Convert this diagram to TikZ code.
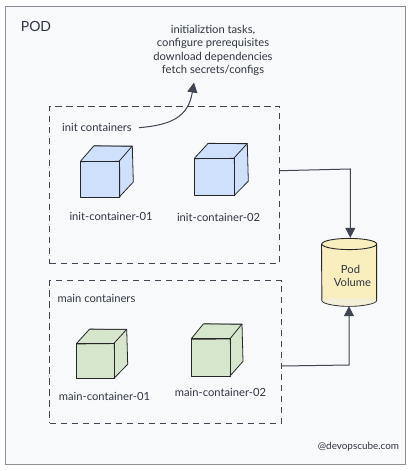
\documentclass[tikz,border=0pt]{standalone}
\usepackage{fontspec}
\setmainfont{Lato}
\usetikzlibrary{arrows.meta}
\definecolor{bgc}{HTML}{F8F9FB}
\definecolor{framec}{HTML}{8C9096}
\definecolor{inkc}{HTML}{2F3640}
\definecolor{linec}{HTML}{3F4651}
\definecolor{bluec}{HTML}{CFE0FC}
\definecolor{greenc}{HTML}{D6E6CD}
\definecolor{yellowc}{HTML}{F9EFBE}
\tikzset{
  x=1pt,y=-1pt,
  frame/.style={draw=framec,fill=bgc,line width=0.9pt,minimum width=399.5pt,minimum height=457.5pt,inner sep=0pt},
  dashbox/.style={draw=linec,dash pattern=on 6.5pt off 4.5pt,line width=0.8pt,inner sep=0pt},
  txt/.style={text=inkc,font=\fontsize{11.2}{13}\selectfont,inner sep=0pt},
  cubeline/.style={draw=black!85,line width=0.8pt,line join=round},
  conn/.style={draw=linec,line width=1pt},
  tip/.style={-{Triangle[length=10pt,width=10pt]}},
  volbox/.style={minimum width=55pt,minimum height=68pt,inner sep=0pt}
}
% front x1,y1,x2,y2 ; dx dy of back ; fill
\newcommand{\cubeat}[7]{%
  \fill[#7] (#1,#2) -- (#1+#5,#2-#6) -- (#3+#5,#2-#6) -- (#3+#5+1,#4-#6) -- (#3,#4) -- (#1,#4) -- cycle;
  \draw[cubeline] (#1,#2) rectangle (#3,#4);
  \draw[cubeline] (#1,#2) -- (#1+#5,#2-#6) -- (#3+#5,#2-#6) -- (#3,#2);
  \draw[cubeline] (#3+#5,#2-#6) -- (#3+#5+1,#4-#6) -- (#3,#4);
  \draw[cubeline,line width=0.7pt] (#1-0.3,#2+0.7) -- (#3+0.3,#2+0.3) -- (#3+0.6,#4+0.3);
  \draw[cubeline,line width=0.5pt] (#1+#5+0.5,#2-#6-0.4) -- (#3+#5-0.4,#2-#6+0.5);
}
\begin{document}
\begin{tikzpicture}
\useasboundingbox (0,0) rectangle (412,470);
\fill[white] (0,0) rectangle (412,470);
\node[frame] (pod) at (205.5,235.5) {};
\node[dashbox,minimum width=229.8pt,minimum height=157.5pt] (initbox) at (164.6,184.75) {};
\node[dashbox,minimum width=232.2pt,minimum height=142.3pt] (mainbox) at (165.6,351.85) {};

\node[txt,font=\fontsize{14}{16}\selectfont] (podlabel) at (36,26) {POD};
\node[txt] (tasks) at (213,50.5) {\parbox{130pt}{\centering\baselineskip=13.3pt initializtion tasks,\\configure prerequisites\\download dependencies\\fetch secrets/configs}};
\node[txt] (initlabel) at (97,127) {init containers};
\node[txt] (mainlabel) at (96.5,298.5) {main containers};

\cubeat{80.7}{161}{119.3}{197}{13}{15}{bluec}
\cubeat{194.7}{158}{234}{195.7}{13.3}{14.5}{bluec}
\cubeat{76.7}{343.3}{114}{378.3}{12.7}{14}{greenc}
\cubeat{191.3}{338.7}{230}{376}{12}{14.7}{greenc}

\node[txt] (ic1) at (111,216.5) {init-container-01};
\node[txt] (ic2) at (218.5,217) {init-container-02};
\node[txt] (mc1) at (104.5,396) {main-container-01};
\node[txt] (mc2) at (220.5,392.5) {main-container-02};

\node[volbox] (volume) at (349.2,272) {};
\path[fill=yellowc,draw=black!85,line width=0.9pt]
  (volume.north west) ++(0,6) -- (321.9,300.5)
  .. controls (322,304) and (338,306.5) .. (349.2,306.3)
  .. controls (360,306.5) and (376.4,304) .. (376.6,300.5)
  -- (376.6,244);
\fill[black!6,opacity=0.5] (322.3,298.5) -- (376.2,298.5) -- (376.2,300.5) .. controls (376,304) and (360,306) .. (349.2,305.8) .. controls (338,306) and (322.4,304) .. (322.3,300.5) -- cycle;
\draw[fill=yellowc,draw=black!85,line width=0.9pt] (349.25,244) ellipse [x radius=27.4pt,y radius=5.6pt];
\node[txt] (pv1) at (350.5,269) {Pod};
\node[txt] (pv2) at (352.5,282) {Volume};
\node[txt,font=\fontsize{9.9}{12}\selectfont] (credit) at (358.5,447) {@devopscube.com};

\coordinate (curvestart) at (139,127.7);
\coordinate (curveend) at (194,82.5);
\coordinate (initout) at (280,170.7);
\coordinate (mainout) at (282,366);
\coordinate (initcorner) at (350.3,169);
\coordinate (maincorner) at (349,365);
\draw[conn,tip] (curvestart) .. controls (170,125) and (188,118) .. (curveend);
\draw[conn,tip] (initout) -- (initcorner) -- (initcorner |- volume.north);
\draw[conn,tip] (mainout) -- (maincorner) -- (maincorner |- volume.south);
\end{tikzpicture}
\end{document}
